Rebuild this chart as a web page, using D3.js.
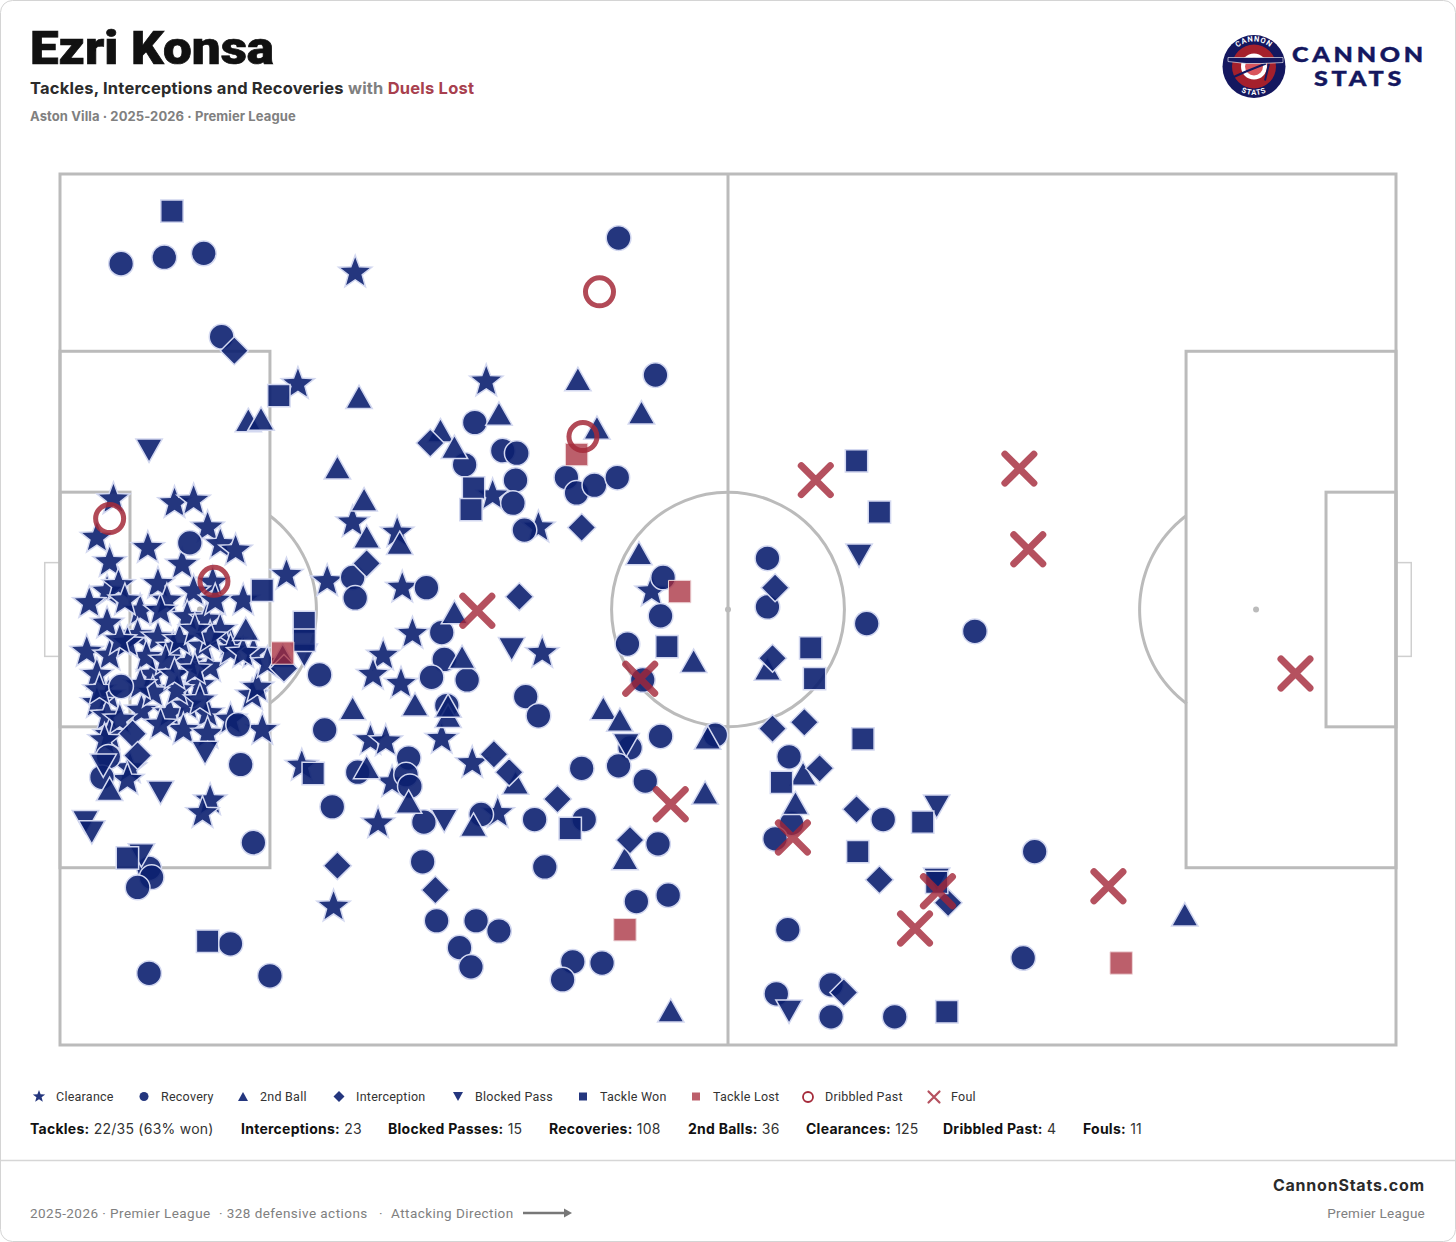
<!DOCTYPE html>
<html>
<head>
<meta charset="utf-8">
<title>Ezri Konsa - defensive actions</title>
<script src="https://cdn.jsdelivr.net/npm/d3@7"></script>
<style>
    html, body { margin: 0; padding: 0; background: #fff; }
    svg { display: block; }
    text { font-family: Roboto, "Noto Sans", sans-serif; }
    .wide { font-family: Inter, Roboto, sans-serif; }
    .line { fill: none; stroke: #bbbbbb; stroke-width: 3; }
    .goal { fill: none; stroke: #cfcfcf; stroke-width: 1.5; }
    .blue { fill: #0c2070; fill-opacity: 0.9; stroke: #d3d8f0; stroke-width: 1.5; }
    .red { fill: #a52a3a; fill-opacity: 0.75; stroke: #eed5d8; stroke-width: 1; }
    .ring { fill: none; stroke: #a52a3a; stroke-opacity: 0.85; stroke-width: 5; }
    .foul { fill: none; stroke: #a32637; stroke-opacity: 0.8; stroke-width: 7; stroke-linecap: round; }
</style>
</head>
<body>
<div id="chart"></div>
<script>
// pitch is 105 x 68 metres, action locations below are metres from the top left corner
const pitchLength = 105, pitchWidth = 68;

const clearances = [
    [23.2,7.7],[18.7,16.4],[33.5,16.2],[23.0,27.2],[26.5,28.0],[34.0,25.1],[37.6,27.6],[21.0,31.8],[26.9,32.3],
    [27.7,35.9],[25.4,37.6],[24.6,39.1],[26.8,39.8],[46.5,32.6],[37.9,37.4],[17.8,31.3],[24.4,44.2],[25.6,44.3],
    [30.0,44.1],[32.4,46.0],[19.0,46.2],[26.1,47.5],[25.0,50.7],[34.4,49.9],[21.5,57.2],
    [4.2,25.4],[2.9,28.4],[3.9,30.3],[9.0,25.7],[10.5,25.5],[6.9,29.2],[11.6,27.6],[12.6,28.9],[13.8,29.4],
    [9.6,30.5],[12.0,31.9],[10.5,32.6],[7.7,32.0],[3.7,32.6],[4.6,32.1],[2.3,33.5],[14.4,33.3],[6.3,34.1],
    [8.4,33.3],[3.7,35.1],[2.1,37.3],[3.9,37.6],[10.0,34.6],[11.5,34.8],[6.1,36.0],[7.7,36.2],[8.9,37.0],
    [13.4,36.6],[15.2,37.4],[10.1,38.2],[11.8,38.5],[11.2,36.9],[7.3,39.1],[2.9,39.1],[11.0,39.9],[15.1,40.7],
    [15.5,40.1],[3.8,40.7],[2.9,41.3],[3.7,42.3],[6.4,41.9],[8.6,42.1],[10.0,41.5],[11.6,42.1],[9.7,43.4],
    [11.6,43.7],[3.9,43.8],[15.9,43.4],[13.4,42.6],[9.2,40.3],[7.3,40.5],[12.6,35.6],[6.8,37.7],[13.4,37.2],
    [14.4,37.4],[16.3,38.2],[5.3,36.6],[11.8,36.2],[5.5,46.4],[11.8,48.9],[11.2,49.9],
    [8.3,38.0],[9.4,36.4],[7.9,34.1],[10.6,35.6],[5.1,33.3],[12.2,33.3],[3.1,40.3],[4.7,42.6],[5.3,47.3],
    [11.0,41.1],[7.9,43.0],[6.3,39.9],[9.0,39.1],[4.7,36.4],[3.5,44.2],[10.6,38.7]
];

const recoveries = [
    [4.8,7.0],[8.2,6.5],[11.3,6.2],[43.9,5.0],[12.7,12.7],[46.8,15.7],[32.6,19.4],[34.8,21.6],[35.9,21.8],
    [31.8,22.7],[35.8,23.9],[35.6,25.7],[36.5,27.8],[39.8,23.7],[40.6,24.9],[42.0,24.3],[43.8,23.7],[47.4,31.5],
    [47.2,34.5],[44.6,36.7],[45.8,39.5],[23.0,31.5],[23.2,33.1],[28.8,32.3],[20.4,39.1],[30.0,35.8],[30.2,37.9],
    [29.2,39.3],[32.0,39.5],[30.4,41.5],[36.6,40.8],[37.6,42.3],[20.8,43.4],[23.4,46.7],[27.4,45.6],[27.2,46.9],
    [27.5,47.8],[21.4,49.4],[28.6,50.6],[33.1,50.0],[37.3,50.4],[41.2,50.4],[41.0,46.4],[47.2,43.9],[44.8,44.8],
    [43.9,46.2],[46.0,47.4],[47.0,52.3],[38.1,54.1],[28.5,53.7],[45.3,56.8],[47.8,56.3],[29.6,58.3],[32.7,58.3],
    [34.5,59.1],[31.4,60.4],[32.3,61.9],[40.3,61.5],[42.6,61.6],[39.5,62.9],[51.5,43.8],[4.8,40.0],[14.0,43.0],
    [10.2,28.8],[14.2,46.1],[15.2,52.2],[3.8,45.5],[3.3,47.1],[7.0,54.2],[7.2,54.9],[6.1,55.7],[13.4,60.1],
    [7.0,62.4],[16.5,62.6],[63.4,35.1],[71.9,35.7],[55.6,30.0],[55.6,33.8],[57.3,45.5],[57.5,50.7],[56.2,51.9],
    [64.7,50.4],[57.2,59.0],[56.3,64.0],[60.6,63.3],[60.6,65.8],[65.6,65.8],[76.6,52.9],[75.7,61.2]
];

const secondBalls = [
    [23.5,17.4],[14.8,19.2],[15.8,19.1],[40.7,16.0],[45.7,18.6],[34.5,18.7],[29.9,20.0],[31.0,21.3],[21.8,22.9],
    [42.2,19.8],[23.9,25.4],[24.1,28.3],[26.7,28.8],[45.5,29.6],[31.0,34.2],[31.6,37.7],[49.8,38.0],[23.0,41.7],
    [27.9,41.4],[30.5,42.3],[30.5,41.5],[42.7,41.7],[44.0,42.6],[50.9,44.0],[24.1,46.3],[35.8,47.5],[50.7,48.3],
    [27.4,49.0],[32.5,50.8],[44.4,53.4],[48.0,65.3],[55.6,38.6],[58.4,46.8],[57.8,49.1],[88.4,57.8],[14.6,35.5],
    [17.5,37.6],[3.9,48.0]
];

const interceptions = [
    [13.7,13.8],[29.1,21.0],[41.0,27.6],[24.1,30.4],[36.1,33.0],[34.1,45.3],[35.3,46.7],[39.1,48.8],[44.8,52.0],
    [21.8,54.0],[29.5,55.9],[56.0,43.3],[58.5,42.8],[59.7,46.4],[62.6,49.6],[64.4,55.1],[69.8,56.9],[61.6,63.9],
    [56.2,32.3],[56.0,37.8],[5.7,43.7],[6.1,45.4],[17.6,38.6]
];

const blockedPasses = [
    [7.0,21.6],[35.5,37.1],[62.8,29.8],[30.2,50.5],[44.5,44.6],[68.9,49.4],[57.3,65.4],[11.4,45.2],[3.4,46.2],
    [7.9,48.3],[2.0,50.6],[2.5,51.4],[6.4,53.2],[68.9,55.1],[19.2,37.6]
];

const tacklesWon = [
    [8.8,2.9],[17.2,17.3],[32.5,24.5],[32.3,26.2],[47.7,36.9],[19.2,35.0],[19.2,36.4],[15.9,32.5],[62.6,22.4],
    [64.4,26.4],[59.0,37.0],[59.3,39.4],[19.9,46.8],[40.1,51.1],[5.3,53.4],[11.6,59.9],[63.1,44.1],[56.7,47.5],
    [67.8,50.6],[62.7,52.9],[68.9,55.3],[69.7,65.4]
];

const tacklesLost = [[40.6,21.9],[48.7,32.6],[17.5,37.4],[44.4,59.0],[83.4,61.6]];
const dribbledPast = [[42.4,9.2],[41.1,20.5],[3.9,26.9],[12.1,31.8]];
const fouls = [
    [59.4,23.9],[75.4,23.0],[76.1,29.3],[32.8,34.1],[97.1,39.0],[45.6,39.4],[48.0,49.2],[57.6,51.8],[69.0,56.0],
    [67.2,58.9],[82.4,55.6]
];

const legendLabels = ["Clearance","Recovery","2nd Ball","Interception","Blocked Pass","Tackle Won","Tackle Lost","Dribbled Past","Foul"];
const statLabels = ["Tackles:","Interceptions:","Blocked Passes:","Recoveries:","2nd Balls:","Clearances:","Dribbled Past:","Fouls:"];
const statValues = ["22/35 (63% won)","23","15","108","36","125","4","11"];

/** Triangles and the diamond centred on their bounding box, size is the width squared. */
const triangleUp = {draw(ctx, size) {
    let w = Math.sqrt(size) / 2, h = w * 0.885;
    ctx.moveTo(0, -h); ctx.lineTo(w, h); ctx.lineTo(-w, h); ctx.closePath();
}};
const triangleDown = {draw(ctx, size) {
    let w = Math.sqrt(size) / 2, h = w * 0.885;
    ctx.moveTo(0, h); ctx.lineTo(w, -h); ctx.lineTo(-w, -h); ctx.closePath();
}};
const diamond = {draw(ctx, size) {
    let w = Math.sqrt(size) / 2;
    ctx.moveTo(0, -w); ctx.lineTo(w, 0); ctx.lineTo(0, w); ctx.lineTo(-w, 0); ctx.closePath();
}};
// a bit chunkier than d3.symbolStar, size is the outer radius squared
const star = {draw(ctx, size) {
    let r = Math.sqrt(size);
    for (let i = 0; i < 10; i++) {
        let a = -Math.PI / 2 + i * Math.PI / 5, k = i % 2 ? 0.42 * r : r;
        if (i == 0) ctx.moveTo(k * Math.cos(a), k * Math.sin(a));
        else ctx.lineTo(k * Math.cos(a), k * Math.sin(a));
    }
    ctx.closePath();
}};

/** Class implementing the defensive action map. */
class DefensiveMap {

    constructor() {
        this.svg = d3.select("#chart").append("svg")
            .attr("width", 1456)
            .attr("height", 1242);
        this.x = d3.scaleLinear().domain([0, pitchLength]).range([60, 1396]);
        this.y = d3.scaleLinear().domain([0, pitchWidth]).range([174, 1045]);
        // metres to pixels, for lengths rather than positions
        this.lx = d => this.x(d) - this.x(0);
        this.ly = d => this.y(d) - this.y(0);
    }

    drawFrame() {
        this.svg.append("rect")
            .attr("x", 0.5).attr("y", 0.5).attr("width", 1455).attr("height", 1241).attr("rx", 12)
            .attr("fill", "#fff").attr("stroke", "#d4d4d4");
        this.svg.append("line")
            .attr("x1", 1).attr("x2", 1455).attr("y1", 1160.5).attr("y2", 1160.5)
            .attr("stroke", "#d6d6d6").attr("stroke-width", 1.5);
    }

    drawHeader() {
        let s = this.svg;
        s.append("text").attr("x", 30).attr("y", 64).text("Ezri Konsa")
            .attr("font-size", 46).attr("font-weight", 900).attr("fill", "#111")
            .attr("stroke", "#111").attr("stroke-width", 0.7)
            .attr("textLength", 244).attr("lengthAdjust", "spacingAndGlyphs");

        let sub = s.append("text").classed("wide", true).attr("x", 30).attr("y", 94)
            .attr("font-size", 16.5).attr("font-weight", 700).attr("letter-spacing", 0.21);
        sub.append("tspan").attr("fill", "#2b2b2b").text("Tackles, Interceptions and Recoveries");
        sub.append("tspan").attr("fill", "#808080").text(" with ");
        sub.append("tspan").attr("fill", "#a8404e").text("Duels Lost");

        s.append("text").classed("wide", true).attr("x", 30).attr("y", 121)
            .attr("font-size", 13).attr("font-weight", 700).attr("fill", "#808080").attr("letter-spacing", 0.1)
            .text("Aston Villa · 2025-2026 · Premier League");
    }

    drawLogo() {
        let navy = "#14175f", red = "#a5202c";
        let g = this.svg.append("g").attr("transform", "translate(1254,66.5)");
        g.append("circle").attr("r", 31.5).attr("fill", navy);
        g.append("circle").attr("r", 22).attr("fill", red);
        g.append("circle").attr("r", 13).attr("fill", "#fff");
        g.append("circle").attr("r", 9).attr("fill", "#d9555c");
        g.append("path").attr("d", "M-26,13 L-8,5 M12,-3 L-8,5 M11,14 L15,-3")
            .attr("stroke", navy).attr("stroke-width", 2).attr("fill", "none");
        g.append("path").attr("d", "M-26,-9 L-8,-9 L29,-9 L29,-4 L8,-3 L-8,-3 L-26,-5 Z")
            .attr("fill", navy).attr("stroke", "#fff").attr("stroke-width", 0.6);
        let defs = this.svg.append("defs");
        defs.append("path").attr("id", "logoTop").attr("d", "M-25,0 A25,25 0 0 1 25,0");
        defs.append("path").attr("id", "logoBottom").attr("d", "M-28.5,0 A28.5,28.5 0 0 0 28.5,0");
        let arc = (id, str) => g.append("text").attr("fill", "#fff").attr("font-size", 7.5).attr("font-weight", 700)
            .attr("letter-spacing", 0.8).attr("text-anchor", "middle")
            .append("textPath").attr("href", "#" + id).attr("startOffset", "50%").text(str);
        arc("logoTop", "CANNON");
        arc("logoBottom", "STATS");

        [["CANNON", 1292, 62, 135], ["STATS", 1314, 86, 91]].forEach(d => {
            this.svg.append("text").attr("x", d[1]).attr("y", d[2]).text(d[0])
                .style("font-family", "Lato").attr("font-size", 20).attr("font-weight", 900)
                .attr("fill", navy).attr("stroke", navy).attr("stroke-width", 0.4)
                .attr("letter-spacing", 3).attr("textLength", d[3]).attr("lengthAdjust", "spacingAndGlyphs");
        });
    }

    drawPitch() {
        let x = this.x, y = this.y, lx = this.lx, ly = this.ly;
        let g = this.svg.append("g");
        let midY = pitchWidth / 2;

        // goal frames go under the touchline
        [[-1.2, 0], [pitchLength, pitchLength + 1.2]].forEach(d => {
            g.append("rect").classed("goal", true)
                .attr("x", x(d[0])).attr("y", y(midY - 3.66))
                .attr("width", lx(d[1] - d[0])).attr("height", ly(7.32));
        });

        g.append("rect").classed("line", true)
            .attr("x", x(0)).attr("y", y(0)).attr("width", lx(pitchLength)).attr("height", ly(pitchWidth));
        g.append("line").classed("line", true)
            .attr("x1", x(pitchLength / 2)).attr("x2", x(pitchLength / 2)).attr("y1", y(0)).attr("y2", y(pitchWidth));

        [[0, 16.5, 40.32], [0, 5.5, 18.32]].forEach(b => {
            let top = midY - b[2] / 2;
            g.append("rect").classed("line", true)
                .attr("x", x(0)).attr("y", y(top)).attr("width", lx(b[1])).attr("height", ly(b[2]));
            g.append("rect").classed("line", true)
                .attr("x", x(pitchLength - b[1])).attr("y", y(top)).attr("width", lx(b[1])).attr("height", ly(b[2]));
        });

        g.append("ellipse").classed("line", true)
            .attr("cx", x(pitchLength / 2)).attr("cy", y(midY)).attr("rx", lx(9.15)).attr("ry", ly(9.15));
        [11, pitchLength - 11, pitchLength / 2].forEach(d => {
            g.append("circle").attr("cx", x(d)).attr("cy", y(midY)).attr("r", 3).attr("fill", "#bbbbbb");
        });

        // penalty arcs: the part of the 9.15m circle outside the box
        let a = Math.acos(5.5 / 9.15);
        [[11, 1], [pitchLength - 11, -1]].forEach(p => {
            let pts = d3.range(-a, a + 0.01, 0.02).map(t => [
                x(p[0] + p[1] * 9.15 * Math.cos(t)),
                y(midY + 9.15 * Math.sin(t))
            ]);
            g.append("path").classed("line", true).attr("d", d3.line()(pts));
        });
    }

    /**
     * Draws one action type as a symbol at each location
     *
     * @param data list of [x, y] in metres
     * @param type d3 symbol type
     * @param size d3 symbol size
     * @param cls fill class
     */
    drawSymbols(data, type, size, cls) {
        this.svg.append("g").selectAll("path").data(data).join("path")
            .attr("class", cls)
            .attr("d", d3.symbol().type(type).size(size))
            .attr("transform", d => "translate(" + this.x(d[0]) + "," + this.y(d[1]) + ")");
    }

    drawActions() {
        this.drawSymbols(clearances, star, 306, "blue");
        this.drawSymbols(recoveries, d3.symbolCircle, 480, "blue");
        this.drawSymbols(secondBalls, triangleUp, 700, "blue");
        this.drawSymbols(interceptions, diamond, 780, "blue");
        this.drawSymbols(blockedPasses, triangleDown, 700, "blue");
        this.drawSymbols(tacklesWon, d3.symbolSquare, 500, "blue");
        this.drawSymbols(tacklesLost, d3.symbolSquare, 500, "red");

        this.svg.append("g").selectAll("circle").data(dribbledPast).join("circle")
            .attr("class", "ring").attr("r", 14)
            .attr("cx", d => this.x(d[0])).attr("cy", d => this.y(d[1]));

        this.svg.append("g").selectAll("path").data(fouls).join("path")
            .attr("class", "foul")
            .attr("d", "M-14.5,-14.5 L14.5,14.5 M-14.5,14.5 L14.5,-14.5")
            .attr("transform", d => "translate(" + this.x(d[0]) + "," + this.y(d[1]) + ")");
    }

    drawLegend() {
        let markerX = [39, 144, 243, 339, 458, 583, 696, 808, 934];
        let types = [star, d3.symbolCircle, triangleUp, diamond, triangleDown, d3.symbolSquare, d3.symbolSquare];
        let sizes = [42, 64, 100, 120, 100, 64, 64];
        let g = this.svg.append("g");
        legendLabels.forEach((label, i) => {
            if (i < types.length) {
                g.append("path").attr("class", i == 6 ? "red" : "blue").style("stroke", "none")
                    .attr("d", d3.symbol().type(types[i]).size(sizes[i])())
                    .attr("transform", "translate(" + markerX[i] + ",1096.5)");
            } else if (i == 7) {
                g.append("circle").attr("cx", markerX[i]).attr("cy", 1097).attr("r", 5)
                    .attr("fill", "none").attr("stroke", "#a52a3a").attr("stroke-width", 1.8);
            } else {
                g.append("path").attr("class", "foul").style("stroke-width", 2.2)
                    .attr("d", "M-5.5,-5.5 L5.5,5.5 M-5.5,5.5 L5.5,-5.5")
                    .attr("transform", "translate(" + markerX[i] + ",1097)");
            }
            g.append("text").attr("x", markerX[i] + 17).attr("y", 1100.5)
                .attr("font-size", 12.5).attr("fill", "#333").attr("letter-spacing", 0.25).text(label);
        });

        let statX = [30, 241, 388, 549, 688, 806, 943, 1083];
        statLabels.forEach((label, i) => {
            let t = this.svg.append("text").classed("wide", true).attr("x", statX[i]).attr("y", 1134)
                .attr("font-size", 14).attr("fill", "#111").attr("letter-spacing", 0.25);
            t.append("tspan").attr("font-weight", 700).text(label);
            t.append("tspan").attr("fill", "#333").text(" " + statValues[i]);
        });
    }

    drawFooter() {
        let s = this.svg;
        [[30, "2025-2026 · Premier League"], [219, "· 328 defensive actions"], [379, "·"], [391, "Attacking Direction"]].forEach(d => {
            s.append("text").attr("x", d[0]).attr("y", 1218).attr("font-size", 13.5).attr("fill", "#808080")
                .attr("letter-spacing", 0.45).text(d[1]);
        });
        s.append("line").attr("x1", 523).attr("x2", 567).attr("y1", 1213).attr("y2", 1213)
            .attr("stroke", "#777").attr("stroke-width", 2.5);
        s.append("path").attr("d", "M564,1208.5 L572,1213 L564,1217.5 Z").attr("fill", "#777");
        s.append("text").classed("wide", true).attr("x", 1425).attr("y", 1191).attr("text-anchor", "end")
            .attr("font-size", 16).attr("font-weight", 700).attr("fill", "#2b2b2b").attr("letter-spacing", 0.78)
            .text("CannonStats.com");
        s.append("text").attr("x", 1425).attr("y", 1218).attr("text-anchor", "end")
            .attr("font-size", 13.5).attr("fill", "#808080").attr("letter-spacing", 0.25)
            .text("Premier League");
    }

    update() {
        this.drawFrame();
        this.drawHeader();
        this.drawLogo();
        this.drawPitch();
        this.drawActions();
        this.drawLegend();
        this.drawFooter();
    }
}

new DefensiveMap().update();
</script>
</body>
</html>
